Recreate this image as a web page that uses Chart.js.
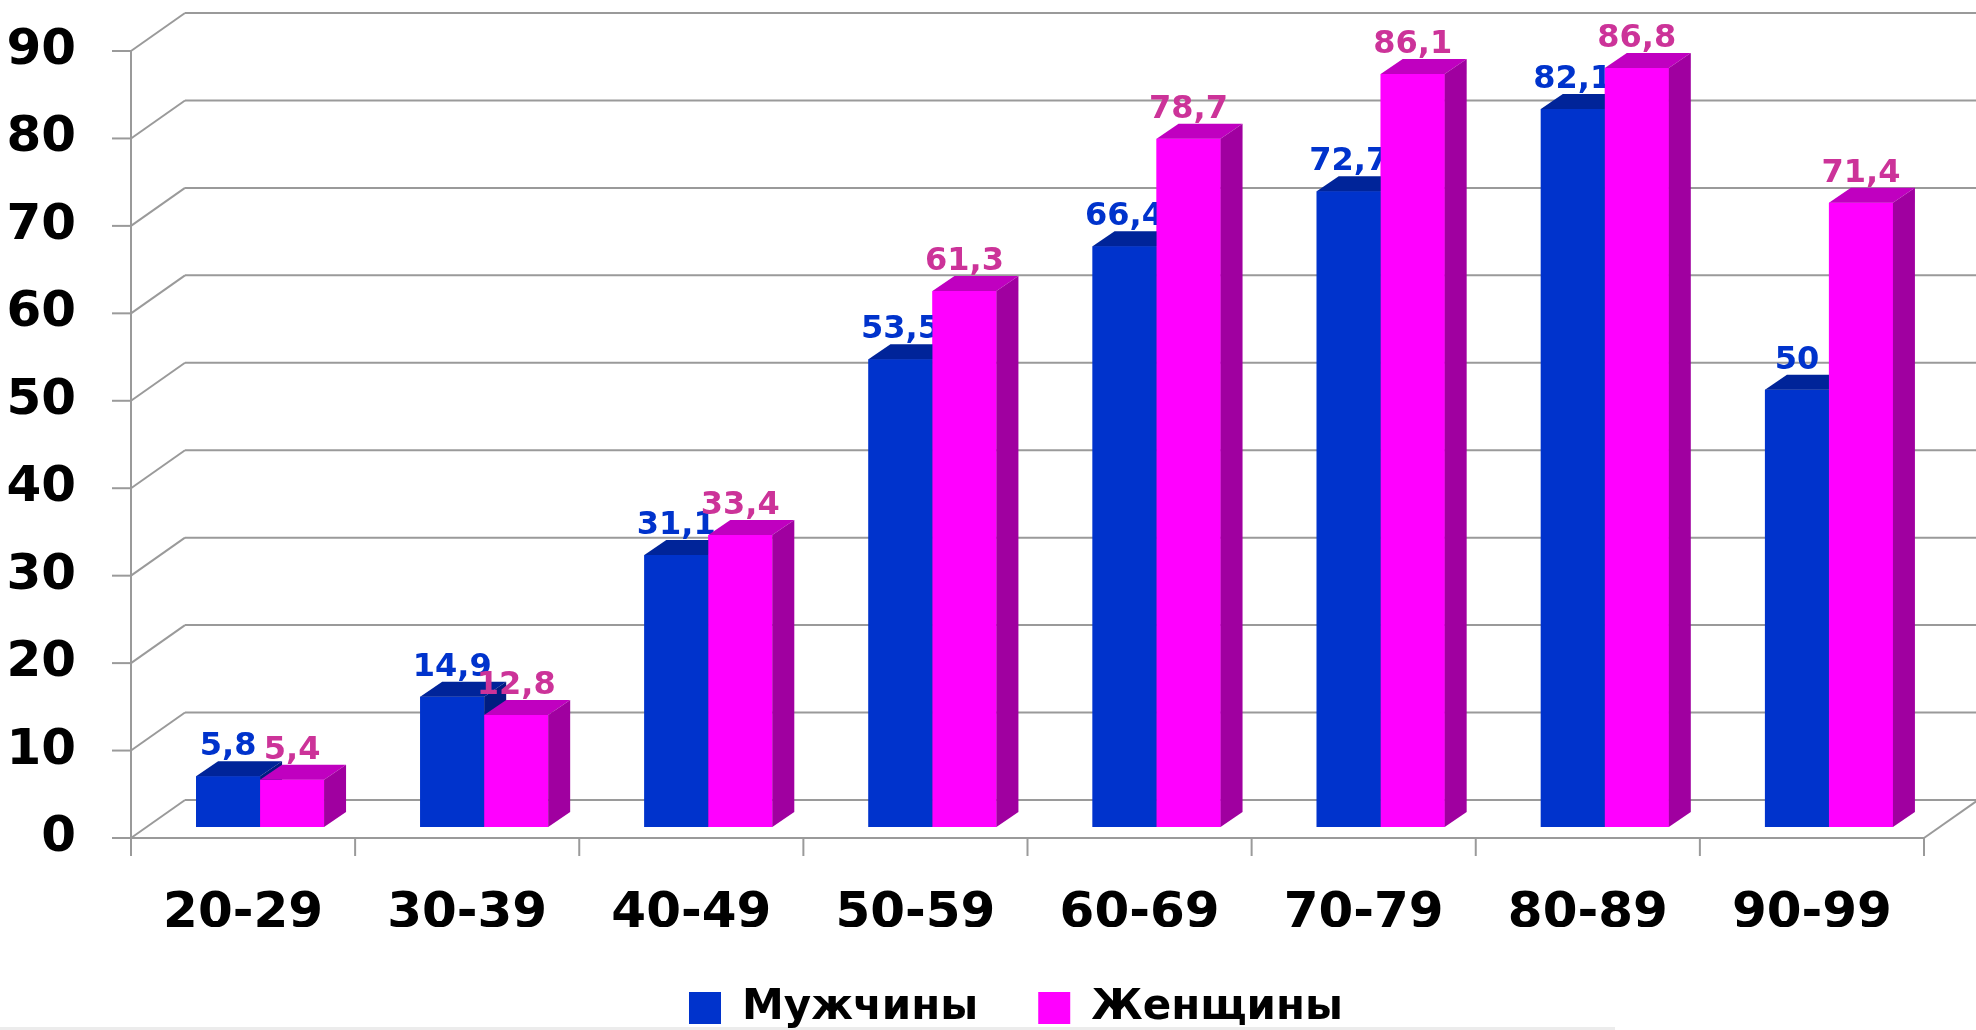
<!DOCTYPE html>
<html>
<head>
<meta charset="utf-8">
<script src="https://cdn.jsdelivr.net/npm/chart.js@4/dist/chart.umd.min.js"></script>
<style>
  html, body { margin: 0; padding: 0; background: #ffffff; }
  #wrap { width: 1976px; height: 1030px; position: relative; }
</style>
</head>
<body>
<div id="wrap"><canvas id="chart" width="1976" height="1030"></canvas></div>
<script>
// Age groups and shares per group (men / women)
const ageGroups = ['20-29', '30-39', '40-49', '50-59', '60-69', '70-79', '80-89', '90-99'];
const menValues = [5.8, 14.9, 31.1, 53.5, 66.4, 72.7, 82.1, 50];
const womenValues = [5.4, 12.8, 33.4, 61.3, 78.7, 86.1, 86.8, 71.4];
const seriesNames = ['Мужчины', 'Женщины'];
const yTicks = [0, 10, 20, 30, 40, 50, 60, 70, 80, 90];

// 3D geometry: front frame sits slightly in front of the bar plane, back wall behind it
const FRONT = { dx: -17, dy: 11 };
const BACK = { dx: 37, dy: -27 };
const BAR_DEPTH = { dx: 22, dy: -15 };
const WALL_COLOR = '#9a9a9a';
const AXIS_FONT = { family: 'DejaVu Sans', weight: 'bold', size: 50 };
const LABEL_FONT = 'bold 32px "DejaVu Sans"';
const LEGEND_FONT_SIZE = 42, LEGEND_PADDING = 60;
const PLOT_LEFT = 148, PLOT_BOTTOM = 827, PAD_LEFT = 91, PAD_BOTTOM = -9;

const fmt = v => String(v).replace('.', ',');

function line(ctx, x1, y1, x2, y2) {
  ctx.beginPath();
  ctx.moveTo(x1, y1);
  ctx.lineTo(x2, y2);
  ctx.stroke();
}
function poly(ctx, pts) {
  ctx.beginPath();
  ctx.moveTo(pts[0][0], pts[0][1]);
  for (let i = 1; i < pts.length; i++) ctx.lineTo(pts[i][0], pts[i][1]);
  ctx.closePath();
  ctx.fill();
}

// Walls, floor and axis lines of the 3D box; bars are then drawn series by series
// (front, top, side, value label) so that each series covers the one before it.
const box3d = {
  id: 'box3d',
  beforeDraw(chart) {
    const ctx = chart.ctx;
    ctx.save();
    ctx.fillStyle = '#ececec';
    ctx.fillRect(0, chart.height - 3, 1615, 3);
    ctx.restore();
  },
  beforeDatasetsDraw(chart) {
    const { ctx, chartArea: a, scales: { x, y } } = chart;
    const wallDx = BACK.dx - FRONT.dx, wallDy = BACK.dy - FRONT.dy;
    const left = a.left + FRONT.dx;
    const right = a.right + FRONT.dx;
    ctx.save();
    ctx.strokeStyle = WALL_COLOR;
    ctx.lineWidth = 2;
    y.ticks.forEach(t => {
      const py = y.getPixelForValue(t.value);
      const fy = py + FRONT.dy;
      const by = py + BACK.dy;
      line(ctx, left - 19, fy, left, fy);
      line(ctx, left, fy, left + wallDx, by);
      line(ctx, left + wallDx, by, chart.width + 10, by);
    });
    const fyTop = y.getPixelForValue(y.max) + FRONT.dy;
    const fy0 = y.getPixelForValue(0) + FRONT.dy;
    line(ctx, left, fyTop, left, fy0 + 18);
    line(ctx, left, fy0, right, fy0);
    line(ctx, right, fy0, right + wallDx, fy0 + wallDy);
    for (let i = 0; i <= ageGroups.length; i++) {
      const px = x.getPixelForValue(i - 0.5) + FRONT.dx;
      line(ctx, px, fy0, px, fy0 + 18);
    }
    ctx.restore();
  },
  afterDatasetsDraw(chart) {
    const ctx = chart.ctx;
    chart.data.datasets.forEach((ds, di) => {
      const meta = chart.getDatasetMeta(di);
      ctx.save();
      meta.data.forEach(bar => {
        bar.draw(ctx, chart.chartArea);
        const { x: cx, y: top, base, width } = bar.getProps(['x', 'y', 'base', 'width'], true);
        const l = cx - width / 2, r = cx + width / 2;
        ctx.fillStyle = ds.topColor;
        poly(ctx, [[l, top], [r, top], [r + BAR_DEPTH.dx, top + BAR_DEPTH.dy], [l + BAR_DEPTH.dx, top + BAR_DEPTH.dy]]);
        ctx.fillStyle = ds.sideColor;
        poly(ctx, [[r, top], [r + BAR_DEPTH.dx, top + BAR_DEPTH.dy], [r + BAR_DEPTH.dx, base + BAR_DEPTH.dy], [r, base]]);
      });
      ctx.font = LABEL_FONT;
      ctx.fillStyle = ds.labelColor;
      ctx.textAlign = 'center';
      ctx.textBaseline = 'alphabetic';
      meta.data.forEach((bar, i) => {
        ctx.fillText(fmt(ds.data[i]), bar.x, bar.y + BAR_DEPTH.dy - 6);
      });
      ctx.restore();
    });
  }
};

new Chart(document.getElementById('chart'), {
  type: 'bar',
  data: {
    labels: ageGroups,
    datasets: [
      {
        label: seriesNames[0],
        data: menValues,
        backgroundColor: '#0033CC',
        topColor: '#002499',
        sideColor: '#001d80',
        labelColor: '#0033CC',
        borderWidth: 0,
        categoryPercentage: 0.571,
        barPercentage: 1
      },
      {
        label: seriesNames[1],
        data: womenValues,
        backgroundColor: '#FF00FF',
        topColor: '#C000C0',
        sideColor: '#A000A0',
        labelColor: '#CC3399',
        borderWidth: 0,
        categoryPercentage: 0.571,
        barPercentage: 1
      }
    ]
  },
  options: {
    responsive: false,
    devicePixelRatio: 1,
    animation: false,
    layout: { padding: { top: 40, right: 35, left: PAD_LEFT, bottom: PAD_BOTTOM } },
    scales: {
      x: {
        offset: true,
        grid: { display: false, drawTicks: false },
        border: { display: false },
        ticks: {
          font: AXIS_FONT,
          color: '#000000',
          padding: 57,
          labelOffset: FRONT.dx,
          maxRotation: 0,
          autoSkip: false
        },
        afterFit(s) {
          const lg = (s.chart.legend && s.chart.legend.height) || (LEGEND_FONT_SIZE + LEGEND_PADDING + 10);
          s.height = 1030 - PAD_BOTTOM - PLOT_BOTTOM - lg;
          s.paddingLeft = 0;
          s.paddingRight = 0;
        }
      },
      y: {
        min: 0,
        max: 90,
        afterBuildTicks(s) { s.ticks = yTicks.map(v => ({ value: v })); },
        grid: { display: false, drawTicks: false },
        border: { display: false },
        ticks: {
          font: AXIS_FONT,
          color: '#000000',
          padding: 72,
          labelOffset: FRONT.dy
        },
        afterFit(s) {
          s.width = PLOT_LEFT - PAD_LEFT;
          s.paddingTop = 0;
          s.paddingBottom = 0;
          // tick labels reach past the narrow axis box, so leave them unclipped
          s._computeLabelArea = () => undefined;
        }
      }
    },
    plugins: {
      legend: {
        position: 'bottom',
        labels: {
          boxWidth: 32,
          boxHeight: 32,
          padding: LEGEND_PADDING,
          color: '#000000',
          font: { family: 'DejaVu Sans', weight: 'bold', size: LEGEND_FONT_SIZE }
        }
      },
      tooltip: { enabled: false }
    }
  },
  plugins: [box3d]
});
</script>
</body>
</html>
